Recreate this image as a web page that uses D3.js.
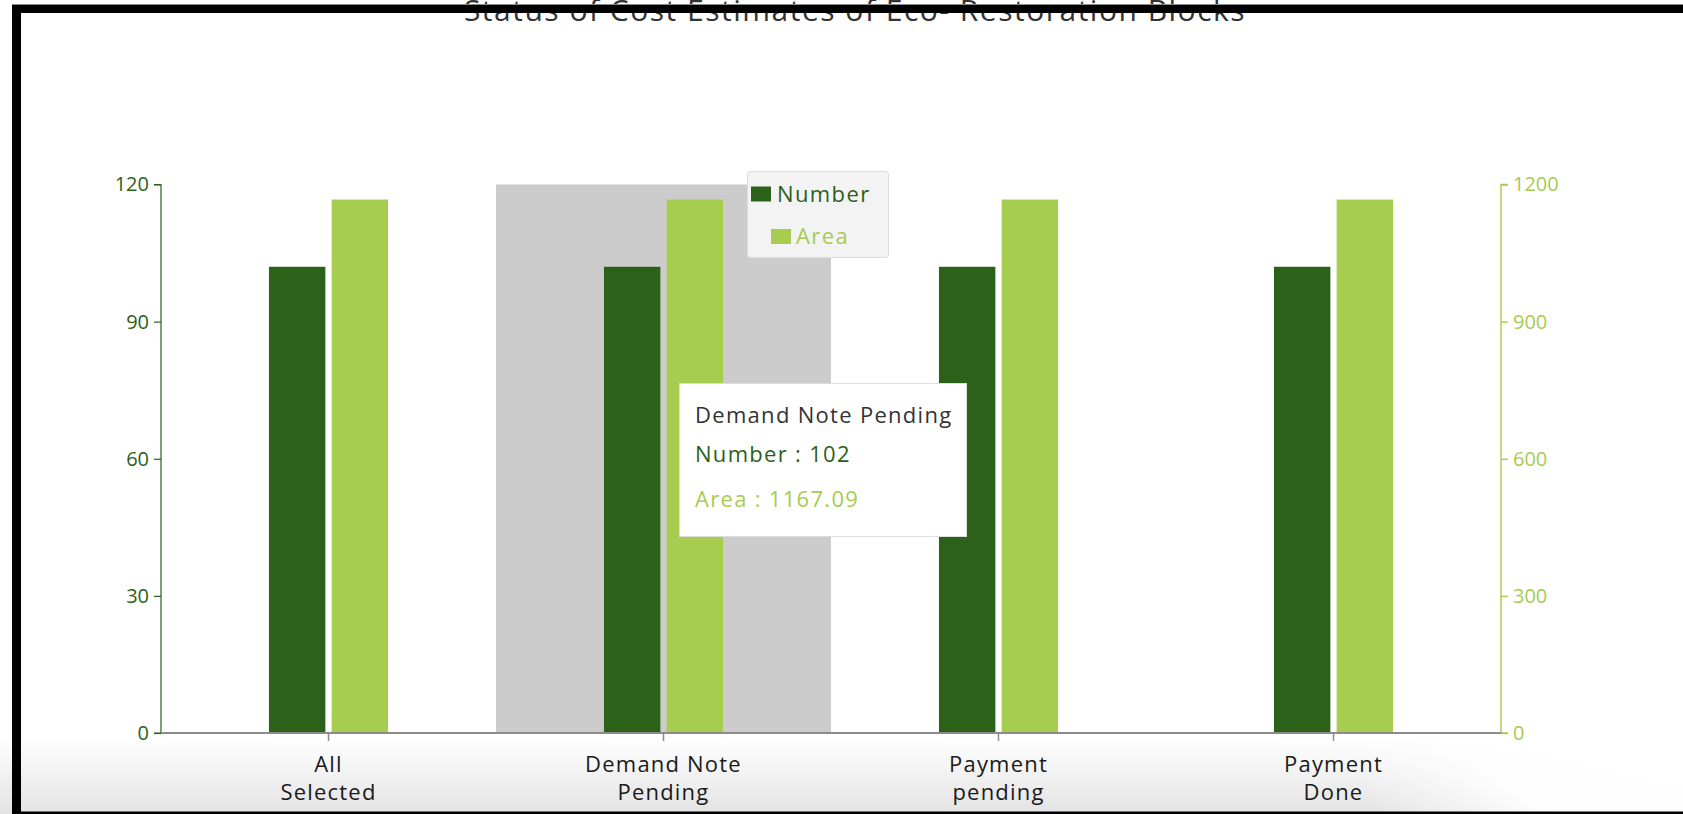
<!DOCTYPE html>
<html>
<head>
<meta charset="utf-8">
<script src="https://cdn.jsdelivr.net/npm/d3@7"></script>
<style>
  html, body { margin: 0; padding: 0; background: #fff; }
  svg { display: block; font-family: "Open Sans", "Noto Sans", sans-serif; }
</style>
</head>
<body>
<svg id="chart" width="1683" height="814"></svg>
<script>
const categories = [["All", "Selected"], ["Demand Note", "Pending"], ["Payment", "pending"], ["Payment", "Done"]];
const categoryNames = ["All Selected", "Demand Note Pending", "Payment pending", "Payment Done"];
const seriesNames = ["Number", "Area"];
const numberValues = [102, 102, 102, 102];
const areaValues = [1167.09, 1167.09, 1167.09, 1167.09];
const leftTicks = [0, 30, 60, 90, 120];
const rightTicks = [0, 300, 600, 900, 1200];
const titleText = "Status of Cost Estimates of Eco- Restoration Blocks";
const highlightIndex = 1;

const darkGreen = "#2c6119";
const lightGreen = "#a6cc50";

const W = 1683, H = 814;
const plot = { left: 161, right: 1501, top: 184.5, bottom: 733 };

const svg = d3.select("#chart");
const defs = svg.append("defs");

// bottom shadow gradient (page background artifact)
const lg = defs.append("linearGradient").attr("id", "bottomShade").attr("x1", 0).attr("y1", 0).attr("x2", 0).attr("y2", 1);
lg.append("stop").attr("offset", "0%").attr("stop-color", "#ffffff");
lg.append("stop").attr("offset", "100%").attr("stop-color", "#e3e3e3");
const rg = defs.append("radialGradient").attr("id", "cornerFade")
  .attr("cx", 1683).attr("cy", 760).attr("r", 330).attr("gradientUnits", "userSpaceOnUse")
  .attr("gradientTransform", "translate(1683,760) scale(1,0.45) translate(-1683,-760)");
rg.append("stop").attr("offset", "0%").attr("stop-color", "#ffffff").attr("stop-opacity", 1);
rg.append("stop").attr("offset", "55%").attr("stop-color", "#ffffff").attr("stop-opacity", 0.9);
rg.append("stop").attr("offset", "100%").attr("stop-color", "#ffffff").attr("stop-opacity", 0);

svg.append("rect").attr("x", 0).attr("y", 738).attr("width", W).attr("height", H - 738).attr("fill", "url(#bottomShade)");
svg.append("rect").attr("x", 1200).attr("y", 700).attr("width", W - 1200).attr("height", H - 700).attr("fill", "url(#cornerFade)");

// scales
const x = d3.scaleBand().domain(categoryNames).range([plot.left, plot.right]).paddingInner(0).paddingOuter(0);
const groupFrac = 0.3555;
const sub = d3.scaleBand().domain(seriesNames)
  .range([x.bandwidth() * (1 - groupFrac) / 2, x.bandwidth() * (1 + groupFrac) / 2])
  .paddingInner(0.1);
const yL = d3.scaleLinear().domain([0, 120]).range([plot.bottom, plot.top]);
const yR = d3.scaleLinear().domain([0, 1200]).range([plot.bottom, plot.top]);

// title (cropped by top border)
svg.append("text").attr("x", 855).attr("y", 21).attr("text-anchor", "middle")
  .attr("font-size", 30).attr("letter-spacing", 1.5).attr("fill", "#333").text(titleText);

// highlight shadow
svg.append("rect")
  .attr("x", x(categoryNames[highlightIndex])).attr("y", plot.top)
  .attr("width", x.bandwidth()).attr("height", plot.bottom - plot.top)
  .attr("fill", "#cccccc");

// bars
const gBars = svg.append("g");
categoryNames.forEach((c, i) => {
  gBars.append("rect")
    .attr("x", x(c) + sub("Number")).attr("y", yL(numberValues[i]))
    .attr("width", sub.bandwidth()).attr("height", yL(0) - yL(numberValues[i]))
    .attr("fill", darkGreen);
  gBars.append("rect")
    .attr("x", x(c) + sub("Area")).attr("y", yR(areaValues[i]))
    .attr("width", sub.bandwidth()).attr("height", yR(0) - yR(areaValues[i]))
    .attr("fill", lightGreen);
});

// left axis
const axL = svg.append("g").attr("transform", `translate(${plot.left},0)`)
  .call(d3.axisLeft(yL).tickValues(leftTicks).tickSize(7).tickPadding(5).tickFormat(d3.format("d")));
axL.select(".domain").attr("stroke", darkGreen).attr("stroke-width", 1.2).attr("d", `M-7,${plot.top}H0V${plot.bottom}H-7`);
axL.selectAll(".tick line").attr("stroke", darkGreen).attr("stroke-width", 1.2);
axL.selectAll(".tick text").attr("fill", darkGreen).attr("font-size", 20).attr("font-family", "Open Sans");

// right axis
const axR = svg.append("g").attr("transform", `translate(${plot.right},0)`)
  .call(d3.axisRight(yR).tickValues(rightTicks).tickSize(7).tickPadding(5).tickFormat(d3.format("d")));
axR.select(".domain").attr("stroke", lightGreen).attr("stroke-width", 1.4).attr("d", `M7,${plot.top}H0V${plot.bottom}H7`);
axR.selectAll(".tick line").attr("stroke", lightGreen).attr("stroke-width", 1.4);
axR.selectAll(".tick text").attr("fill", lightGreen).attr("font-size", 20).attr("font-family", "Open Sans");

// category axis
const axB = svg.append("g").attr("transform", `translate(0,${plot.bottom})`)
  .call(d3.axisBottom(x).tickSize(8).tickFormat(""));
axB.select(".domain").attr("stroke", "#8c8c8c").attr("stroke-width", 2).attr("d", `M${plot.left},0H${plot.right}`);
axB.selectAll(".tick line").attr("stroke", "#8c8c8c").attr("stroke-width", 1.5);
axB.selectAll(".tick").each(function(d, i) {
  const t = d3.select(this).append("text").attr("fill", "#1a1a1a").attr("font-size", 22)
    .attr("letter-spacing", 1.2).attr("text-anchor", "middle").attr("font-family", "Open Sans");
  categories[i].forEach((line, j) => {
    t.append("tspan").attr("x", 0).attr("y", 39 + j * 28).text(line);
  });
});

// legend
const lgG = svg.append("g");
lgG.append("rect").attr("x", 747.5).attr("y", 171.5).attr("width", 141).attr("height", 86).attr("rx", 3)
  .attr("fill", "#f3f3f3").attr("stroke", "#dcdcdc");
const legendItems = [
  { name: seriesNames[0], color: darkGreen, sx: 751, sy: 186.5, tx: 777, ty: 202 },
  { name: seriesNames[1], color: lightGreen, sx: 771, sy: 229, tx: 796, ty: 244 }
];
legendItems.forEach(it => {
  lgG.append("rect").attr("x", it.sx).attr("y", it.sy).attr("width", 20).attr("height", 15).attr("fill", it.color);
  lgG.append("text").attr("x", it.tx).attr("y", it.ty).attr("font-size", 22).attr("letter-spacing", 1.4)
    .attr("fill", it.color).text(it.name);
});

// tooltip
const tip = svg.append("g").attr("font-size", 22).attr("letter-spacing", 1.3);
tip.append("rect").attr("x", 679.5).attr("y", 383.5).attr("width", 287).attr("height", 153)
  .attr("fill", "#ffffff").attr("stroke", "#dddddd");
tip.append("text").attr("x", 695).attr("y", 423).attr("fill", "#333")
  .text(categoryNames[highlightIndex]);
tip.append("text").attr("x", 695).attr("y", 462).attr("fill", darkGreen)
  .text(`${seriesNames[0]} : ${numberValues[highlightIndex]}`);
tip.append("text").attr("x", 695).attr("y", 507).attr("fill", lightGreen)
  .text(`${seriesNames[1]} : ${areaValues[highlightIndex]}`);

// screenshot frame borders
svg.append("rect").attr("x", 12).attr("y", 4).attr("width", W - 12).attr("height", 1.5).attr("fill", "#888");
svg.append("rect").attr("x", 12).attr("y", 5).attr("width", W - 12).attr("height", 8).attr("fill", "#000");
svg.append("rect").attr("x", 12).attr("y", 5).attr("width", 9).attr("height", H - 5).attr("fill", "#000");
svg.append("rect").attr("x", 12).attr("y", 811.5).attr("width", W - 12).attr("height", 2.5).attr("fill", "#000");
</script>
</body>
</html>
